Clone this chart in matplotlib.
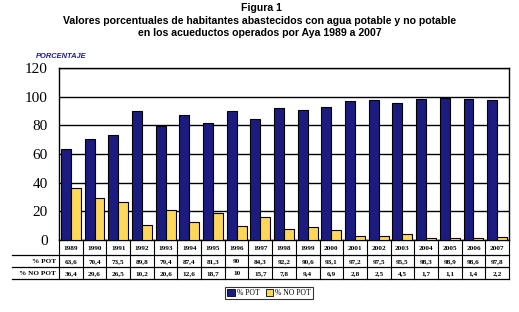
import matplotlib

matplotlib.use("Agg")

import matplotlib.pyplot as plt
from matplotlib.patches import Patch
import numpy as np

years = ["1989", "1990", "1991", "1992", "1993", "1994", "1995", "1996", "1997", "1998",
         "1999", "2000", "2001", "2002", "2003", "2004", "2005", "2006", "2007"]
pot = [63.6, 70.4, 73.5, 89.8, 79.4, 87.4, 81.3, 90.0, 84.3, 92.2,
       90.6, 93.1, 97.2, 97.5, 95.5, 98.3, 98.9, 98.6, 97.8]
no_pot = [36.4, 29.6, 26.5, 10.2, 20.6, 12.6, 18.7, 10.0, 15.7, 7.8,
          9.4, 6.9, 2.8, 2.5, 4.5, 1.7, 1.1, 1.4, 2.2]
series_labels = ["% POT", "% NO POT"]
yticks = [0, 20, 40, 60, 80, 100, 120]

NAVY = "#1b1b80"
YELLOW = "#fdd75a"
W, H = 519, 312


def fmt(v):
    s = "{:.1f}".format(v).replace(".", ",")
    return s[:-2] if s.endswith(",0") else s


fig = plt.figure(figsize=(W / 100, H / 100), dpi=100)
ax = fig.add_axes([59 / W, 1 - 240 / H, 450 / W, 172 / H])

x = np.arange(len(years))
bw = 0.42
ax.bar(x - bw / 2, pot, bw, color=NAVY, edgecolor="black", linewidth=0.8, zorder=3)
ax.bar(x + bw / 2, no_pot, bw, color=YELLOW, edgecolor="black", linewidth=0.8, zorder=3)

ax.set_xlim(-0.5, len(years) - 0.5)
ax.set_ylim(0, 120)
ax.set_yticks(yticks)
ax.set_yticklabels([str(t) for t in yticks], family="Liberation Serif", fontsize=11)
ax.tick_params(axis="y", length=0, pad=8)
ax.set_xticks([])
ax.yaxis.grid(True, color="black", linewidth=1.0, zorder=0)
for sp in ax.spines.values():
    sp.set_color("black")
    sp.set_linewidth(1.0)

# data table under the axis (pixel rows -> axis fraction)
def yf(py):
    return (240 - py) / 172.0

trans = ax.get_xaxis_transform()
left_lab = -0.5 - 47 / (450 / len(years))
rows_y = [240, 255, 267, 279]
for py in rows_y[1:]:
    ax.plot([left_lab, len(years) - 0.5], [yf(py)] * 2, color="black", lw=0.9,
            transform=trans, clip_on=False)
for i in range(len(years) + 1):
    ax.plot([i - 0.5] * 2, [yf(240), yf(279)], color="black", lw=0.8,
            transform=trans, clip_on=False)

tfont = dict(family="Liberation Serif", fontsize=5.2, fontweight="bold",
             ha="center", va="center", transform=trans, clip_on=False)
for i, yr in enumerate(years):
    ax.text(i, yf(248), yr, **tfont)
    ax.text(i, yf(261.5), fmt(pot[i]), **tfont)
    ax.text(i, yf(273.5), fmt(no_pot[i]), **tfont)
lab = dict(tfont, ha="right")
ax.text(-0.62, yf(261.5), series_labels[0], **lab)
ax.text(-0.62, yf(273.5), series_labels[1], **lab)

# titles
tt = dict(family="Liberation Sans", fontweight="bold", fontsize=7.6, ha="center", va="center")
fig.text(261 / W, 1 - 8 / H, "Figura 1", **tt)
fig.text(260 / W, 1 - 21 / H,
         "Valores porcentuales de habitantes abastecidos con agua potable y no potable", **tt)
fig.text(260 / W, 1 - 33 / H, "en los acueductos operados por Aya 1989 a 2007", **tt)
fig.text(36 / W, 1 - 57 / H, "PORCENTAJE", family="Liberation Sans", fontweight="bold",
         fontstyle="italic", fontsize=5.4, color=NAVY, ha="left", va="center")

handles = [Patch(facecolor=NAVY, edgecolor="black", linewidth=0.6),
           Patch(facecolor=YELLOW, edgecolor="black", linewidth=0.6)]
leg = fig.legend(handles, series_labels, loc="center", bbox_to_anchor=(269 / W, 1 - 293 / H),
                 ncol=2, frameon=True, fancybox=False, edgecolor="black",
                 prop={"family": "Liberation Serif", "size": 5.5},
                 handlelength=1.0, handleheight=1.0, handletextpad=0.3,
                 columnspacing=0.8, borderpad=0.3)
leg.get_frame().set_linewidth(0.8)

fig.savefig("out.png", dpi=100)
